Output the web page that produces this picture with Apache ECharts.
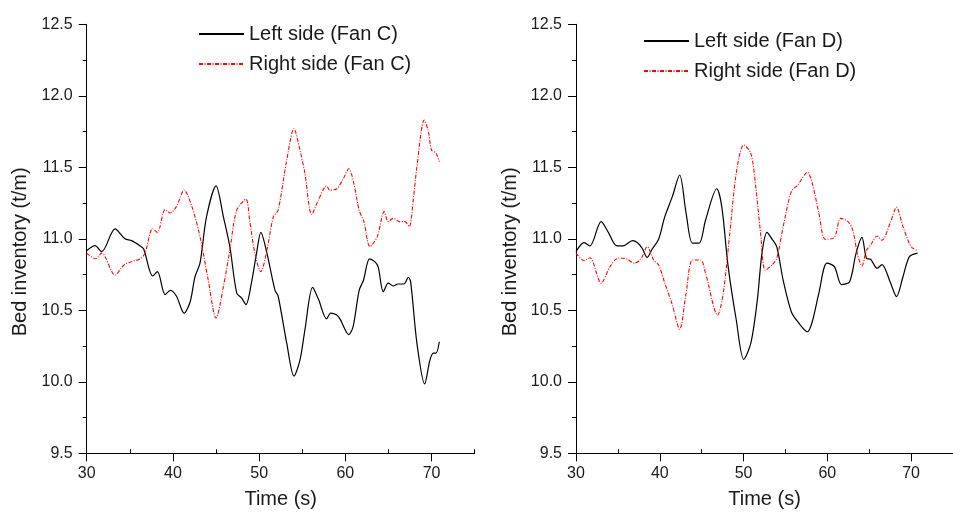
<!DOCTYPE html>
<html>
<head>
<meta charset="utf-8">
<script src="https://cdn.jsdelivr.net/npm/echarts@6/dist/echarts.min.js"></script>
<style>
html,body{margin:0;padding:0;background:#fff;}
#chart{width:953px;height:515px;}
</style>
</head>
<body>
<div id="chart"></div>
<script>
// ---- Data ----
var seriesNames = ['Left side (Fan C)', 'Right side (Fan C)', 'Left side (Fan D)', 'Right side (Fan D)'];
var xTickLabels = [30, 40, 50, 60, 70];
var xMinorTicks = [35, 45, 55, 65, 75];

var fanC_left_t = [30, 30.97, 31.74, 33.29, 34.44, 35.2, 36.2, 36.6, 37.65, 38.2, 39.1, 39.7, 40.4, 41.3, 42.0, 42.56, 43.14, 43.9, 45.0, 45.85, 46.6, 47.4, 47.97, 48.47, 49.1, 49.7, 50.2, 50.9, 51.84, 52.2, 53.2, 54.04, 54.73, 55.3, 56.2, 56.86, 57.83, 58.3, 59.0, 59.37, 60.4, 60.9, 61.6, 62.1, 62.8, 63.4, 63.8, 64.4, 64.98, 65.56, 66.1, 66.8, 67.3, 67.57, 68.3, 69.2, 69.8, 70.2, 70.5, 70.9];
var fanC_left_v = [10.917, 10.952, 10.91, 11.069, 11.0, 10.987, 10.95, 10.93, 10.74, 10.77, 10.61, 10.64, 10.6, 10.48, 10.56, 10.735, 10.83, 11.155, 11.37, 11.155, 10.945, 10.62, 10.585, 10.54, 10.69, 10.9, 11.045, 10.9, 10.64, 10.6, 10.27, 10.04, 10.15, 10.36, 10.66, 10.58, 10.44, 10.48, 10.467, 10.44, 10.33, 10.386, 10.64, 10.71, 10.86, 10.84, 10.805, 10.63, 10.69, 10.67, 10.684, 10.684, 10.73, 10.70, 10.27, 9.985, 10.15, 10.2, 10.2, 10.28];

var fanC_right_t = [30, 31.04, 31.74, 33.29, 34.33, 35.2, 36.2, 36.76, 37.65, 38.2, 39.1, 39.66, 40.4, 41.3, 42.2, 43.14, 44.1, 45.0, 45.85, 46.6, 47.4, 48.47, 48.9, 49.5, 50.2, 50.9, 51.65, 52.2, 53.2, 54.04, 54.73, 55.3, 56.1, 56.86, 57.83, 58.2, 59.0, 59.76, 60.4, 60.9, 61.6, 62.15, 62.85, 63.7, 64.5, 64.98, 65.56, 66.3, 66.9, 67.4, 67.87, 68.3, 69.15, 69.6, 70.0, 70.5, 70.9];
var fanC_right_v = [10.90, 10.86, 10.90, 10.747, 10.817, 10.84, 10.86, 10.90, 11.07, 11.045, 11.205, 11.18, 11.225, 11.34, 11.225, 11.015, 10.71, 10.445, 10.665, 10.92, 11.2, 11.276, 11.13, 10.9, 10.77, 10.92, 11.155, 11.20, 11.55, 11.77, 11.62, 11.46, 11.17, 11.27, 11.37, 11.34, 11.35, 11.42, 11.49, 11.41, 11.2, 11.12, 10.945, 11.015, 11.19, 11.12, 11.143, 11.12, 11.12, 11.085, 11.27, 11.505, 11.83, 11.76, 11.62, 11.6, 11.54];

var fanD_left_t = [30, 30.97, 31.66, 33.0, 33.86, 34.83, 35.6, 36.76, 37.34, 37.9, 38.5, 39.08, 39.86, 40.6, 41.5, 42.37, 43.14, 43.9, 44.7, 45.46, 46.8, 47.4, 48.16, 49.13, 50.02, 50.87, 51.64, 52.2, 52.8, 53.38, 53.96, 54.73, 55.7, 56.47, 57.63, 58.2, 58.99, 59.95, 60.84, 61.7, 62.66, 63.43, 64.13, 64.67, 65.17, 65.94, 66.52, 67.49, 68.26, 69.03, 69.8, 70.77];
var fanD_left_v = [10.91, 10.973, 10.95, 11.12, 11.045, 10.952, 10.95, 10.987, 10.973, 10.934, 10.87, 10.927, 10.997, 11.155, 11.295, 11.446, 11.18, 10.97, 10.97, 11.13, 11.35, 11.225, 10.805, 10.432, 10.157, 10.27, 10.57, 10.9, 11.045, 11.0, 10.945, 10.71, 10.49, 10.42, 10.35, 10.42, 10.62, 10.83, 10.805, 10.68, 10.70, 10.9, 11.01, 10.864, 10.857, 10.794, 10.82, 10.70, 10.596, 10.735, 10.875, 10.9];

var fanD_right_t = [30, 30.97, 31.66, 33.0, 34.06, 35.0, 35.8, 36.96, 37.73, 38.5, 39.28, 39.86, 40.6, 41.5, 42.37, 43.14, 43.9, 44.88, 45.46, 46.9, 47.58, 48.36, 49.13, 50.02, 50.87, 51.45, 52.03, 52.6, 53.38, 53.96, 54.73, 55.7, 56.47, 57.63, 58.2, 58.99, 59.76, 60.84, 61.6, 62.46, 63.04, 63.62, 64.13, 64.67, 65.17, 65.94, 66.52, 67.49, 68.26, 69.03, 70.0, 70.77];
var fanD_right_v = [10.90, 10.847, 10.868, 10.69, 10.805, 10.864, 10.864, 10.83, 10.857, 10.945, 10.85, 10.817, 10.69, 10.537, 10.367, 10.62, 10.852, 10.852, 10.76, 10.467, 10.62, 11.04, 11.458, 11.656, 11.598, 11.365, 11.04, 10.78, 10.817, 10.864, 11.085, 11.33, 11.376, 11.465, 11.388, 11.18, 10.996, 11.01, 11.143, 11.12, 11.06, 10.887, 10.81, 10.92, 10.957, 11.02, 10.99, 11.108, 11.22, 11.085, 10.945, 10.917];

// ---- Build chart ----
function pairs(t, v) { return t.map(function (x, i) { return [x, v[i]]; }); }

var FONT = '"Liberation Sans", Arial, sans-serif';
var TXT = '#1a1a1a';

var grids = [
  { left: 86.7, top: 24.3, width: 388, height: 429 },
  { left: 576, top: 24.3, width: 388, height: 429 }
];

var xAxes = [], yAxes = [];
[0, 1].forEach(function (g) {
  xAxes.push({
    type: 'value', gridIndex: g, min: 30, max: 75, interval: 5, position: 'bottom',
    name: 'Time (s)', nameLocation: 'middle', nameGap: 36,
    nameTextStyle: { fontFamily: FONT, fontSize: 20, color: TXT },
    axisLine: { show: true, lineStyle: { color: '#000', width: 1 } },
    axisTick: { show: true, inside: false, length: 8, customValues: xTickLabels, lineStyle: { color: '#000' } },
    axisLabel: { show: true, margin: 12, customValues: xTickLabels, fontFamily: FONT, fontSize: 16, color: TXT },
    splitLine: { show: false }
  });
  xAxes.push({
    type: 'value', gridIndex: g, min: 30, max: 75, interval: 5, position: 'bottom',
    axisLine: { show: false },
    axisTick: { show: true, inside: true, length: 4, customValues: xMinorTicks, lineStyle: { color: '#000' } },
    axisLabel: { show: false },
    splitLine: { show: false }
  });
  yAxes.push({
    type: 'value', gridIndex: g, min: 9.5, max: 12.5, interval: 0.5,
    name: 'Bed inventory (t/m)', nameLocation: 'middle', nameGap: 56, nameRotate: 90,
    nameTextStyle: { fontFamily: FONT, fontSize: 20, color: TXT, padding: [0, 26, 0, 0] },
    axisLine: { show: true, lineStyle: { color: '#000', width: 1 } },
    axisTick: { show: true, inside: false, length: 8, lineStyle: { color: '#000' } },
    minorTick: { show: true, splitNumber: 2, length: 4, lineStyle: { color: '#000' } },
    axisLabel: { show: true, margin: 14, fontFamily: FONT, fontSize: 16, color: TXT,
      formatter: function (v) { return v.toFixed(1); } },
    splitLine: { show: false }
  });
});

var blackStyle = { color: '#000000', width: 1.2, type: 'solid' };
var redStyle = { color: '#ff0000', width: 1.1, type: [4, 1.5, 1, 1.5] };

function mkSeries(name, xi, yi, data, style) {
  return {
    name: name, type: 'line', xAxisIndex: xi, yAxisIndex: yi,
    data: data, smooth: 0.3, symbol: 'none', showSymbol: false,
    lineStyle: style, itemStyle: { color: style.color }, animation: false
  };
}

var series = [
  mkSeries(seriesNames[0], 0, 0, pairs(fanC_left_t, fanC_left_v), blackStyle),
  mkSeries(seriesNames[1], 0, 0, pairs(fanC_right_t, fanC_right_v), redStyle),
  mkSeries(seriesNames[2], 2, 1, pairs(fanD_left_t, fanD_left_v), blackStyle),
  mkSeries(seriesNames[3], 2, 1, pairs(fanD_right_t, fanD_right_v), redStyle)
];

function mkLegend(names, left, top) {
  return {
    data: names, orient: 'vertical', left: left, top: top,
    itemWidth: 45, itemHeight: 14, itemGap: 10, padding: 0,
    itemStyle: { opacity: 0 },
    textStyle: { fontFamily: FONT, fontSize: 20, color: TXT },
    selectedMode: false
  };
}

var chart = echarts.init(document.getElementById('chart'), null, { renderer: 'canvas' });
chart.setOption({
  backgroundColor: '#ffffff',
  animation: false,
  grid: grids,
  xAxis: xAxes,
  yAxis: yAxes,
  legend: [
    mkLegend([seriesNames[0], seriesNames[1]], 198, 24),
    mkLegend([seriesNames[2], seriesNames[3]], 643, 31)
  ],
  series: series
});
</script>
</body>
</html>
